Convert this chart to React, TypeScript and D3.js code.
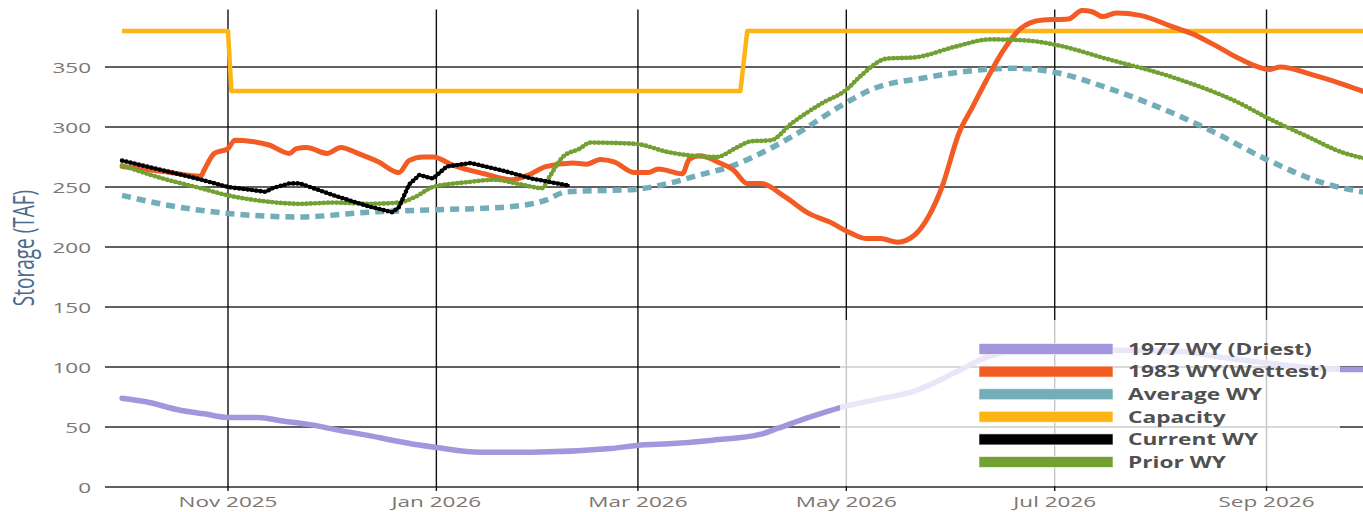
import React from 'react';
import * as d3 from 'd3';

// [day of water year (0 = Oct 1 2025), storage TAF]
type Pt = [number, number];

const capacity: Pt[] = [[0, 380], [31, 380], [32, 330], [181, 330], [183, 380], [365, 380]];

const driest: Pt[] = [
  [0, 74], [7, 71], [17, 64], [24, 61], [31, 58], [40, 58], [47, 55], [55, 52], [64, 47], [72, 43],
  [79, 39], [87, 35], [92, 33], [105, 29], [120, 29], [143, 32], [152, 35], [160, 36], [173, 39],
  [187, 44], [192, 49], [201, 58], [210, 66], [221, 73], [232, 80], [245, 97], [253, 108], [260, 113],
  [290, 114], [310, 113], [322, 108], [342, 101], [357, 98], [365, 98],
];

const wettest: Pt[] = [
  [0, 267], [12, 263], [23, 259], [24, 264], [27, 278], [31, 282], [33, 289], [38, 288], [43, 285],
  [49, 278], [51, 282], [54, 283], [60, 278], [64, 283], [69, 278], [75, 271], [81, 262], [84, 272],
  [88, 275], [91, 275], [97, 268], [106, 261], [114, 256], [119, 260], [124, 267], [132, 270],
  [136, 269], [140, 273], [144, 271], [150, 262], [154, 262], [157, 265], [164, 261], [166, 273],
  [169, 276], [175, 270], [179, 264], [183, 253], [187, 253], [194, 242], [201, 228], [207, 221],
  [213, 212], [218, 207], [222, 207], [227, 204], [232, 210], [236, 225], [240, 250], [245, 295],
  [249, 317], [253, 339], [258, 364], [263, 382], [269, 389], [277, 390], [281, 397], [284, 396],
  [287, 392], [291, 395], [298, 393], [308, 383], [313, 378], [320, 368], [327, 357], [336, 348],
  [339, 350], [349, 343], [357, 336], [365, 328],
];

const average: Pt[] = [
  [0, 243], [13, 235], [31, 228], [52, 225], [72, 229], [91, 231], [111, 233], [124, 239], [130, 246],
  [150, 248], [160, 253], [169, 260], [179, 268], [189, 281], [199, 297], [210, 317], [220, 332],
  [235, 341], [249, 347], [261, 349], [274, 345], [288, 333], [303, 317], [318, 298], [335, 273],
  [352, 253], [365, 245],
];

const current: Pt[] = [
  [0, 272], [22, 257], [31, 250], [42, 246], [44, 249], [49, 253], [52, 253], [62, 243], [72, 234],
  [79, 229], [81, 233], [84, 252], [87, 260], [91, 257], [95, 267], [102, 270], [111, 264],
  [120, 257], [131, 251],
];

const prior: Pt[] = [
  [0, 268], [12, 257], [23, 249], [31, 243], [42, 238], [52, 236], [62, 237], [72, 236], [81, 237],
  [86, 242], [91, 250], [101, 254], [109, 256], [117, 252], [123, 249], [125, 258], [129, 275],
  [134, 282], [137, 287], [150, 286], [160, 279], [167, 276], [174, 275], [180, 283], [184, 288],
  [190, 289], [196, 303], [205, 320], [212, 331], [216, 342], [224, 357], [232, 358], [244, 367],
  [254, 373], [265, 372], [274, 368], [288, 357], [308, 341], [327, 320], [335, 308], [347, 292],
  [357, 279], [365, 273],
];

const legendLabels = ['1977 WY (Driest)', '1983 WY(Wettest)', 'Average WY', 'Capacity', 'Current WY', 'Prior WY'];
const legendColors = ['#a396dd', '#f25c24', '#72adb8', '#fdb515', '#000000', '#72a033'];
const yTicks = [0, 50, 100, 150, 200, 250, 300, 350];

const W = 1363;
const H = 512;
const wyStart = Date.UTC(2025, 9, 1);
const toDate = (d: number) => new Date(wyStart + d * 864e5);

const x = d3.scaleUtc()
  .domain([new Date(Date.UTC(2025, 8, 26)), new Date(Date.UTC(2026, 9, 1))])
  .range([105, 1369]);
const y = d3.scaleLinear().domain([0, 400]).range([487, 7]);
const xTicks = x.ticks(d3.utcMonth.every(2)!);
const fmt = d3.utcFormat('%b %Y');

const smooth = d3.line<Pt>().x(p => x(toDate(p[0]))).y(p => y(p[1])).curve(d3.curveMonotoneX);
const straight = d3.line<Pt>().x(p => x(toDate(p[0]))).y(p => y(p[1]));

const FONT = '"Open Sans", "Noto Sans", sans-serif';
const SX = 1.5; // the source image is stretched sideways

const App: React.FC = () => {
  const grid = '#2b2b2b';
  return (
    <svg width={W} height={H} style={{ position: 'absolute', left: 0, top: 0, background: '#fff' }}>
      {/* gridlines */}
      {yTicks.map(t => (
        <line key={t} x1={105} x2={W} y1={y(t)} y2={y(t)} stroke={grid} strokeWidth={1.3} />
      ))}
      {xTicks.map(t => (
        <line key={+t} x1={x(t)} x2={x(t)} y1={y(398)} y2={491} stroke="#111" strokeWidth={1.4} />
      ))}

      {/* series */}
      <path d={straight(capacity)!} fill="none" stroke="#fdb515" strokeWidth={4.5} strokeLinejoin="round" />
      <path d={smooth(driest)!} fill="none" stroke="#a396dd" strokeWidth={5.5} strokeLinecap="round" />
      <path d={smooth(average)!} fill="none" stroke="#72adb8" strokeWidth={5.5} strokeDasharray="9 6" />
      <path d={smooth(wettest)!} fill="none" stroke="#f25c24" strokeWidth={5} strokeLinecap="round" strokeLinejoin="round" />
      <path d={smooth(prior)!} fill="none" stroke="#72a033" strokeWidth={3} />
      <path d={smooth(prior)!} fill="none" stroke="#72a033" strokeWidth={4.8} strokeDasharray="0 4.3" strokeLinecap="round" />
      <path d={straight(current)!} fill="none" stroke="#000" strokeWidth={3} />
      <path d={straight(current)!} fill="none" stroke="#000" strokeWidth={4.6} strokeDasharray="0 4.3" strokeLinecap="round" />

      {/* y axis labels */}
      {yTicks.map(t => (
        <text key={t} transform={`translate(91,${y(t) + 5.5}) scale(${SX},1)`} textAnchor="end"
          fontFamily={FONT} fontSize={15} fill="#7d7670">{t}</text>
      ))}
      <text transform={`translate(34,248) scale(${SX},1) rotate(-90)`} textAnchor="middle"
        fontFamily={FONT} fontSize={19} fill="#4b6b8e">Storage (TAF)</text>

      {/* x axis labels */}
      {xTicks.map(t => (
        <text key={+t} transform={`translate(${x(t)},507) scale(${SX},1)`} textAnchor="middle"
          fontFamily={FONT} fontSize={15} fill="#7d7670">{fmt(t)}</text>
      ))}

      {/* legend */}
      <rect x={840} y={320} width={500} height={166} fill="#fff" fillOpacity={0.76} />
      {legendLabels.map((l, i) => {
        const cy = 349 + i * 22.6;
        return (
          <g key={l}>
            <rect x={979} y={cy - 5.5} width={134} height={11} fill={legendColors[i]} stroke="#fff" strokeOpacity={0.6} strokeWidth={1} />
            <text transform={`translate(1128,${cy + 5.7}) scale(1.42,1)`} fontFamily={FONT} fontWeight="bold"
              fontSize={16} fill="#505050">{l}</text>
          </g>
        );
      })}
    </svg>
  );
};

export default App;
